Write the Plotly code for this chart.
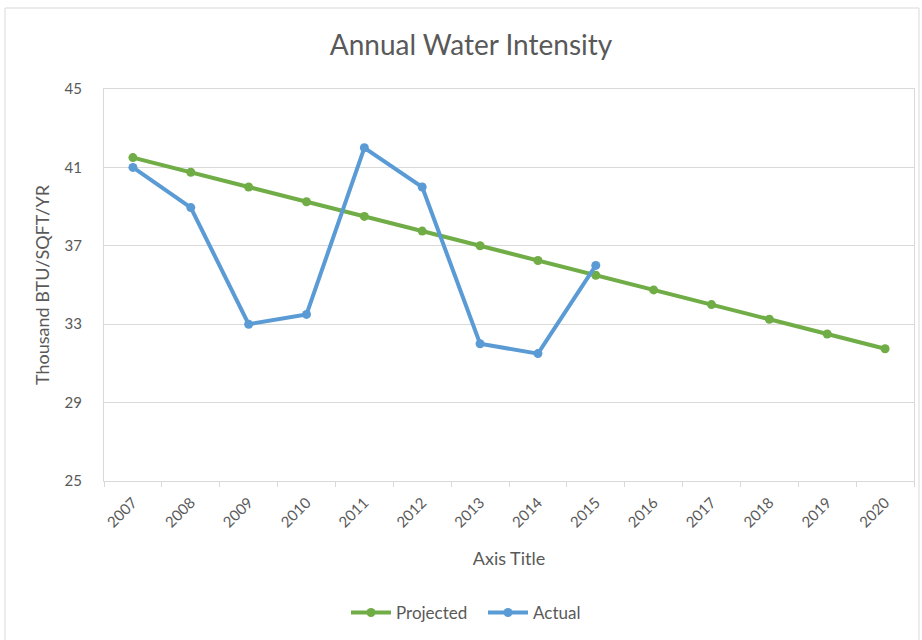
import plotly.graph_objects as go

years = ["2007", "2008", "2009", "2010", "2011", "2012", "2013", "2014",
         "2015", "2016", "2017", "2018", "2019", "2020"]
projected = [41.5, 40.75, 40.0, 39.25, 38.5, 37.75, 37.0, 36.25, 35.5,
             34.75, 34.0, 33.25, 32.5, 31.75]
actual_years = ["2007", "2008", "2009", "2010", "2011", "2012", "2013", "2014", "2015"]
actual = [41.0, 38.95, 33.0, 33.5, 42.0, 40.0, 32.0, 31.5, 36.0]

GREEN = "#70ad47"
BLUE = "#5b9bd5"
GRAY_TXT = "#595959"
FONT = "Lato"

L, R, T, B = 104, 8, 89, 159
W, H = 922, 640
pw, ph = W - L - R, H - T - B

def px(x):
    return (x - L) / pw

def py(y):
    return (H - B - y) / ph

fig = go.Figure()
fig.add_trace(go.Scatter(x=years, y=projected, name="Projected", mode="lines+markers",
                         line=dict(color=GREEN, width=4), marker=dict(size=9, color=GREEN)))
fig.add_trace(go.Scatter(x=actual_years, y=actual, name="Actual", mode="lines+markers",
                         line=dict(color=BLUE, width=4), marker=dict(size=9, color=BLUE)))

fig.update_layout(
    width=W, height=H,
    margin=dict(l=L, r=R, t=T, b=B),
    paper_bgcolor="white", plot_bgcolor="white",
    font=dict(family=FONT, color=GRAY_TXT, size=15),
    title=dict(text="Annual Water Intensity", x=px(471), xref="paper", xanchor="center",
               y=1 - 45 / H, yanchor="middle", font=dict(size=28, color=GRAY_TXT, family=FONT)),
    showlegend=True,
    legend=dict(orientation="h", x=px(483), xanchor="center", y=py(613), yanchor="middle",
                font=dict(size=17, color=GRAY_TXT, family=FONT), itemwidth=40,
                entrywidth=82, traceorder="normal"),
    xaxis=dict(type="category", range=[-0.5, 13.5], showgrid=False, tickangle=-45,
               tickson="boundaries", ticks="outside", ticklen=5, tickcolor="#d9d9d9",
               showline=True, linecolor="#d9d9d9", linewidth=1, mirror=True,
               tickfont=dict(size=15, color=GRAY_TXT), ticklabelstandoff=6,
               title=dict(text="Axis Title", font=dict(size=18, color=GRAY_TXT), standoff=22)),
    yaxis=dict(range=[25, 45], dtick=4, tick0=25, showgrid=True, gridcolor="#d9d9d9",
               showline=True, linecolor="#d9d9d9", linewidth=1, mirror=True, zeroline=False,
               ticks="", tickfont=dict(size=15, color=GRAY_TXT), ticklabelstandoff=18,
               title=dict(text="Thousand BTU/SQFT/YR", font=dict(size=18, color=GRAY_TXT), standoff=10)),
)

fig.add_shape(type="rect", xref="paper", yref="paper",
              x0=px(5), x1=px(919), y0=py(660), y1=py(8),
              line=dict(color="#d9d9d9", width=1), fillcolor="rgba(0,0,0,0)", layer="below")

fig.write_html("out.html", config={"displayModeBar": False},
               post_script="document.body.style.margin='0';")
